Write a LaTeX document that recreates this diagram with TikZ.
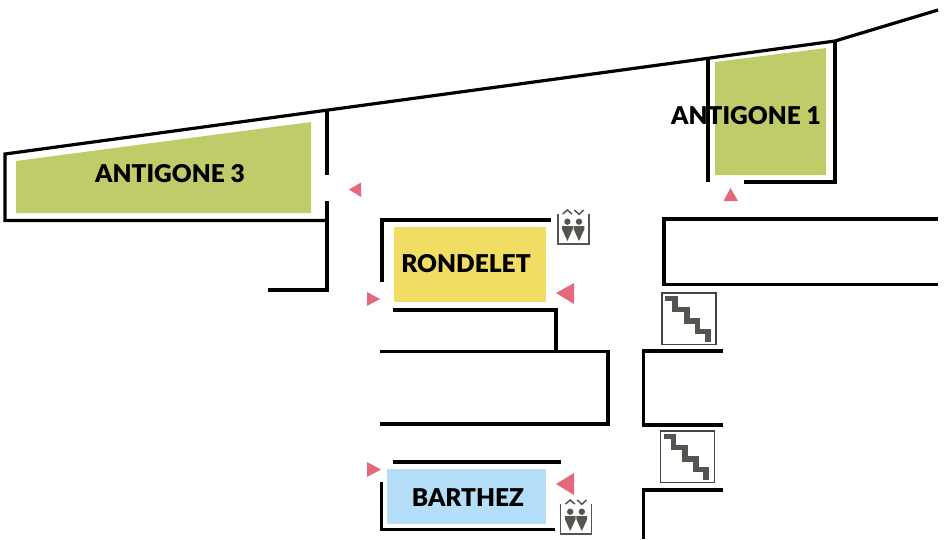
\documentclass[tikz,border=0pt]{standalone}
\usepackage{fontspec}
\usepackage{xcolor}
\setmainfont{Lato}[BoldFont={Lato Black}]
\definecolor{antigone}{HTML}{C0CC69}
\definecolor{rondelet}{HTML}{F1DD63}
\definecolor{barthez}{HTML}{B5DFF8}
\definecolor{marker}{HTML}{E26A7C}
\definecolor{icon}{HTML}{55554F}
\tikzset{
  wall/.style={line width=3.2pt, line cap=butt, line join=miter},
  roomlabel/.style={font=\bfseries\fontsize{24.5}{26}\selectfont, text=black, inner sep=0pt},
  stairbox/.pic={
    \draw[icon!80!black, line width=1.1pt] (0, 0) rectangle (54, 51.5);
    \draw[icon, line width=5.6pt, line join=miter]
      (3, 5.3) -- (13, 5.3) -- (13, 16.3) -- (24.7, 16.3) -- (24.7, 28)
      -- (35.3, 28) -- (35.3, 38.3) -- (45.7, 38.3) -- (45.7, 49);
  },
  lifticon/.pic={
    \draw[icon, line width=1.8pt] (0, 0) -- (0, 30) -- (31, 30) -- (31, 0);
    \draw[icon, line width=1.5pt] (5, 0) -- (9.7, -4) -- (14.3, 0);
    \draw[icon, line width=1.5pt] (16.7, -4) -- (21.3, 0.3) -- (26, -4);
    \foreach \x in {9.7, 21.3} {
      \fill[icon] (\x, 7.7) circle (3.2);
      \fill[icon] (\x-5.4, 12.2) -- (\x+5.4, 12.2) -- (\x+5.4, 15) -- (\x, 27) -- (\x-5.4, 15) -- cycle;
    }
  }
}
\begin{document}
\begin{tikzpicture}[x=1pt, y=-1pt]
  \useasboundingbox (0, 0) rectangle (944, 539);

  % rooms
  \fill[antigone] (16, 161) -- (311, 122) -- (311, 213) -- (16, 213) -- cycle;
  \fill[antigone] (715, 62) -- (826, 48) -- (826, 175) -- (715, 175) -- cycle;
  \fill[rondelet] (394, 227) rectangle (546, 302);
  \fill[barthez]  (387, 469) rectangle (546, 524);

  % walls
  \draw[wall] (938, 10) -- (835, 41) -- (5, 154) -- (5, 220.5) -- (327, 220.5);
  \draw[wall] (327, 111) -- (327, 175);
  \draw[wall] (327, 201) -- (327, 290) -- (268, 290);
  \draw[wall] (708, 58) -- (708, 182);
  \draw[wall] (835, 41) -- (835, 182) -- (744, 182);
  \draw[wall] (382, 282) -- (382, 220) -- (551, 220);
  \draw[wall] (393, 310) -- (556, 310) -- (556, 351);
  \draw[wall] (380, 351.5) -- (608, 351.5) -- (608, 424) -- (380, 424);
  \draw[wall] (938, 219) -- (664, 219) -- (664, 284.5) -- (938, 284.5);
  \draw[wall] (723, 351) -- (643.5, 351) -- (643.5, 425) -- (723, 425);
  \draw[wall] (723, 490) -- (643.5, 490) -- (643.5, 539);
  \draw[wall] (393, 462) -- (561, 462);
  \draw[wall] (381.5, 482) -- (381.5, 529.5) -- (555, 529.5);

  % entrances
  \fill[marker] (349, 189.5) -- (361, 182.5) -- (361, 197) -- cycle;
  \fill[marker] (723.5, 201) -- (738, 201) -- (730.5, 188) -- cycle;
  \fill[marker] (367, 292) -- (367, 306) -- (380, 299) -- cycle;
  \fill[marker] (556, 293) -- (574, 283) -- (574, 304) -- cycle;
  \fill[marker] (367, 462) -- (367, 477) -- (381, 469.5) -- cycle;
  \fill[marker] (556, 484) -- (574, 473) -- (574, 495) -- cycle;

  % icons
  \pic at (662, 293) {stairbox};
  \pic at (660.5, 431) {stairbox};
  \pic at (557.7, 214) {lifticon};
  \pic at (560.5, 504) {lifticon};

  % labels
  \node[roomlabel] (antigonethree) at (170, 174) {ANTIGONE 3};
  \node[roomlabel] (antigoneone) at (746, 116) {ANTIGONE 1};
  \node[roomlabel] (rondeletlabel) at (466, 263.5) {RONDELET};
  \node[roomlabel] (barthezlabel) at (468, 498) {BARTHEZ};
\end{tikzpicture}
\end{document}
